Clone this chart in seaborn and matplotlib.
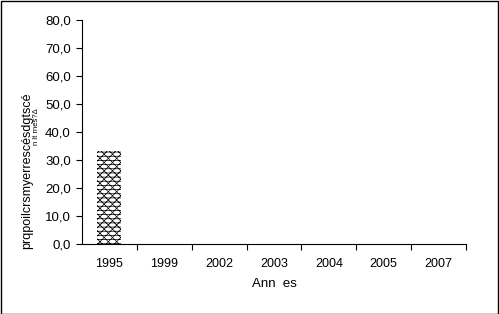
import matplotlib
matplotlib.use("Agg")
import matplotlib.pyplot as plt
import seaborn as sns
import numpy as np
import pandas as pd
from matplotlib.patches import Rectangle
from matplotlib.ticker import FixedLocator, FuncFormatter

years = ["1995", "1999", "2002", "2003", "2004", "2005", "2007"]
values = [33.3, np.nan, np.nan, np.nan, np.nan, np.nan, np.nan]
y_ticks = [0, 10, 20, 30, 40, 50, 60, 70, 80]

sns.set_theme(style="white")
plt.rcParams["font.family"] = ["Liberation Sans", "DejaVu Sans"]
plt.rcParams["hatch.linewidth"] = 0.5
plt.rcParams["hatch.color"] = "black"

df = pd.DataFrame({"annee": years, "valeur": values})

fig = plt.figure(figsize=(4.99, 3.14), dpi=100)
ax = fig.add_axes([82/499, 1-244/314, (466-82)/499, (244-20)/314])

sns.barplot(data=df, x="annee", y="valeur", ax=ax, color="white",
            width=0.44, edgecolor="black", linewidth=0, errorbar=None)
for p in ax.patches:
    p.set_hatch("----xxxx")
    p.set_edgecolor("black")
    p.set_linewidth(0)

ax.set_ylim(0, 80)
ax.set_xlim(-0.5, len(years) - 0.5)
ax.yaxis.set_major_locator(FixedLocator(y_ticks))
ax.yaxis.set_major_formatter(FuncFormatter(lambda v, p: f"{v:.1f}".replace(".", ",")))
ax.set_xticks(np.arange(len(years)) + 0.5, minor=False)
ax.set_xticklabels([])
ax.set_xticks(np.arange(len(years)), minor=True)
ax.set_xticklabels(years, minor=True)
ax.tick_params(axis="x", which="major", direction="out", length=4, width=0.8, color="black", bottom=True)
ax.tick_params(axis="x", which="minor", length=0, pad=10, labelsize=9, labelcolor="black")
ax.tick_params(axis="y", direction="out", length=4, width=0.8, color="black", left=True, labelsize=9.5, labelcolor="black", pad=4)

for s in ["top", "right"]:
    ax.spines[s].set_visible(False)
for s in ["left", "bottom"]:
    ax.spines[s].set_color("black")
    ax.spines[s].set_linewidth(0.8)

ax.set_xlabel("Ann  es", fontsize=9.5, color="black", labelpad=6)
ax.set_ylabel("")

fig.text(27/499, 1-171/314, "prqpoilcrsmyerrescésdgtscé", rotation=90,
         ha="center", va="center", fontsize=9, color="black")
fig.text(36/499, 1-127/314, "n lt rnes?Δ", rotation=90,
         ha="center", va="center", fontsize=5.5, color="black")

fig.patches.append(Rectangle((0.5/499, 0.5/314), 1-1.5/499, 1-1.5/314,
                             transform=fig.transFigure, fill=False,
                             edgecolor="black", linewidth=1))

fig.savefig("out.png", dpi=100)
